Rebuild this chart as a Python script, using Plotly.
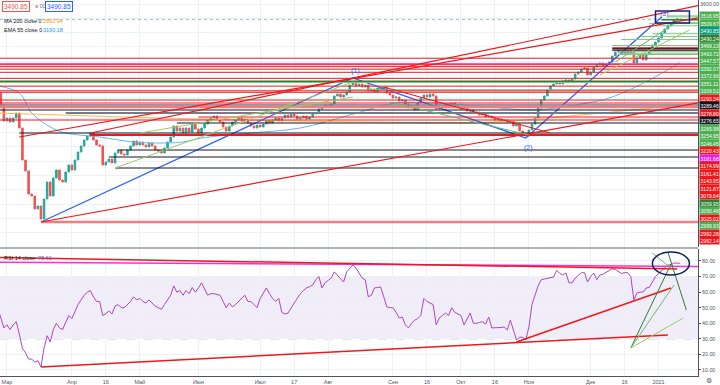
import pandas as pd
import plotly.graph_objects as go

# ---------------- data ----------------
holidays = ['2020-03-09', '2020-05-01', '2020-05-11', '2020-06-12', '2020-06-24',
            '2020-07-01', '2020-11-04', '2020-12-31', '2021-01-01', '2021-01-07']
all_days = [d.strftime('%Y-%m-%d') for d in pd.bdate_range('2020-02-26', '2021-02-05')
            if d.strftime('%Y-%m-%d') not in holidays]

close = [
    2977, 2893, 2781, 2802, 2774, 2802, 2837, 2732, 2508, 2431,
    2270, 2256, 2165, 2186, 2095, 2235, 2354, 2256, 2382, 2438,
    2368, 2354, 2424, 2473, 2438, 2508, 2564, 2606, 2648, 2676,
    2697, 2648, 2613, 2606, 2473, 2494, 2515, 2487, 2557, 2578,
    2550, 2543, 2578, 2606, 2641, 2613, 2634, 2613, 2599, 2627,
    2606, 2578, 2571, 2557, 2592, 2634, 2669, 2746, 2711, 2732,
    2697, 2732, 2704, 2760, 2725, 2697, 2732, 2760, 2788, 2802,
    2816, 2795, 2774, 2739, 2711, 2746, 2774, 2788, 2802, 2781,
    2795, 2767, 2746, 2732, 2753, 2739, 2760, 2781, 2767, 2788,
    2802, 2781, 2802, 2823, 2809, 2830, 2816, 2795, 2802, 2816,
    2795, 2809, 2830, 2837, 2865, 2879, 2893, 2879, 2900, 2956,
    2970, 2949, 2963, 2984, 3033, 3054, 3026, 3040, 3019, 3033,
    2991, 3005, 2984, 3012, 2998, 3019, 2977, 2963, 2942, 2949,
    2921, 2928, 2900, 2872, 2886, 2858, 2907, 2942, 2963, 2949,
    2970, 2956, 2865, 2886, 2872, 2900, 2886, 2907, 2893, 2879,
    2865, 2872, 2851, 2858, 2837, 2844, 2823, 2830, 2809, 2816,
    2802, 2788, 2795, 2781, 2788, 2774, 2781, 2746, 2760, 2711,
    2690, 2676, 2718, 2760, 2802, 2872, 2928, 2956, 2998, 3026,
    3040, 3054, 3040, 3061, 3068, 3054, 3075, 3110, 3124, 3145,
    3152, 3103, 3124, 3159, 3173, 3187, 3166, 3180, 3194, 3236,
    3264, 3271, 3250, 3271, 3257, 3264, 3187, 3222, 3243, 3208,
    3250, 3292, 3313, 3334, 3362, 3397, 3425, 3453, 3467, 3488,
    3495, 3490.85]

rsi = [
    50, 44, 37, 39, 36, 39, 41, 33, 24, 21,
    17, 17, 15, 16, 12, 24, 32, 28, 36, 40,
    37, 36, 41, 45, 43, 48, 52, 55, 58, 60,
    61, 57, 54, 54, 45, 46, 48, 46, 51, 52,
    50, 50, 52, 54, 57, 55, 56, 54, 53, 55,
    53, 51, 50, 49, 52, 55, 58, 64, 60, 61,
    58, 61, 59, 63, 60, 62.7, 66, 62, 58, 59,
    59, 58.5, 58, 54, 50, 53, 50.5, 52, 54, 56,
    58, 54, 54, 52, 50, 56, 59, 62.7, 59, 56,
    54, 56, 47, 46, 46.5, 50, 53, 56, 59, 61,
    62.7, 63.5, 64.6, 68, 70, 62.7, 66, 67.5, 69, 73,
    71, 69, 66.5, 73, 75, 77.4, 75.5, 72, 69, 68,
    57, 58, 62.7, 63, 63.3, 57, 50.5, 50, 50, 47,
    43.4, 44, 39, 37, 40, 42, 43, 45, 56, 54,
    53, 52, 39, 43.4, 45, 46.6, 45, 50, 47, 46,
    45, 39, 43, 46.6, 40, 40, 40.5, 41, 39.5, 44,
    37, 37, 37, 37.3, 37.6, 35.7, 42, 35.7, 29.3, 31,
    31, 29.3, 37.6, 52, 58, 64, 68, 68.5, 69, 69.3,
    69.7, 74, 72, 71, 72.3, 66, 66, 69, 71, 72.5,
    72.5, 66.5, 70, 72.3, 68, 71, 71.5, 72.5, 73.5, 75,
    74.5, 73, 72, 72.5, 72.5, 70, 55, 59.5, 60, 60,
    62.7, 63, 66.5, 70, 72, 74, 75.5, 77.4, 77.5, 78.7,
    78.6, 78.61]

ema55_dates = ['2020-02-26', '2020-03-06', '2020-03-13', '2020-03-23', '2020-03-30', '2020-04-14',
               '2020-04-29', '2020-05-18', '2020-05-25', '2020-06-02', '2020-06-26', '2020-07-21',
               '2020-08-12', '2020-09-02', '2020-09-18', '2020-10-09', '2020-11-03', '2020-11-26',
               '2020-12-10', '2020-12-28', '2021-01-14']
ema55_vals = [3026, 2977, 2837, 2739, 2697, 2669, 2634, 2627, 2634, 2662, 2697, 2732,
              2823, 2907, 2907, 2886, 2858, 2900, 2949, 3068, 3190.18]
ma200_dates = ['2020-02-26', '2020-06-01', '2020-08-20', '2020-10-15', '2020-12-01', '2021-01-14']
ma200_vals = [2837, 2795, 2774, 2774, 2830, 2892.94]

tick_dates = ['2020-03-02', '2020-04-01', '2020-04-16', '2020-05-04', '2020-06-01', '2020-07-02',
              '2020-07-17', '2020-08-03', '2020-09-01', '2020-09-16', '2020-10-01', '2020-10-16',
              '2020-11-02', '2020-12-01', '2020-12-16', '2021-01-04']
tick_labels = ['Мар', 'Апр', '16', 'Май', 'Июн', 'Июл', '17', 'Авг', 'Сен', '16', 'Окт', '16',
               'Ноя', 'Дек', '16', '2021']

# labelled horizontal levels: value, colour, start date (None = whole chart)
level_vals = [3516.95, 3509.67, 3490.85, 3490.24, 3469.13, 3463.72, 3447.57, 3392.07, 3372.66,
              3351.11, 3309.51, 3293.34, 3289.46, 3278.80, 3276.65, 3265.98, 3254.95, 3246.45,
              3220.43, 3181.68, 3174.99, 3161.41, 3143.95, 3121.87, 3079.64, 3059.95, 3050.48,
              3025.02, 2999.93, 2992.28, 2982.14]
level_cols = ['g', 'g', 't', 'dg', 'g', 'g', 'g', 'g', 'g', 'g', 'g', 'r', 'k', 'r', 'k', 'g', 'g',
              'g', 'r', 'm', 'r', 'r', 'r', 'r', 'r', 'dg', 'g', 'r', 'g', 'r', 'r']
level_start = ['2021-01-08', '2021-01-08', None, '2021-01-05', '2020-12-30', '2020-12-28',
               '2020-12-28', '2020-12-29', '2020-12-23', '2020-12-15', '2020-12-10', '2020-12-10',
               '2020-12-10', '2020-12-10', '2020-12-10', '2020-12-14', '2020-12-14', '2020-12-14',
               None, None, None, None, None, None, None, None, None,
               None, '2020-08-05', None, None]

# other horizontal rays: (start date, price, colour key, width)
hlines = [
    ('2020-02-26', 2928, 'r', 1), ('2020-02-26', 2907, 'r', 1),
    ('2020-02-26', 2893, 'gr', 1.5), ('2020-02-26', 2879, 'pk', 2.5), ('2020-02-26', 2858, 'k', 1),
    ('2020-03-30', 2837, 'gr', 2), ('2020-06-01', 2809, 'r', 1), ('2020-02-26', 2788, 'r', 1),
    ('2020-05-21', 2767, 'k', 1), ('2020-03-06', 2697, 'k', 1), ('2020-04-09', 2683, 'r', 2),
    ('2020-04-22', 2578, 'k', 1), ('2020-04-17', 2529, 'k', 1), ('2020-04-21', 2452, 'k', 1),
    ('2020-03-18', 2074, 'pk', 2.5)]

# trend rays extended to the right edge: (date a, price a, date b, price b, colour, width)
trend_rays = [
    ('2020-03-06', 2669, '2020-06-02', 2893, 'r', 1.2),
    ('2020-04-09', 2697, '2020-08-13', 3082, 'r', 1.2),
    ('2020-03-18', 2074, '2020-07-21', 2403, 'r', 1.2)]
# trend segments
segments = [
    ('2020-04-21', 2452, '2020-08-13', 3054, 'lg', 1),
    ('2020-05-04', 2697, '2020-08-13', 2949, 'lg', 1),
    ('2020-08-27', 3019, '2020-11-12', 2697, 'r', 1),
    ('2020-08-31', 2914, '2020-11-02', 2683, 'g2', 1),
    ('2020-12-11', 3194, '2021-01-14', 3488, 'g2', 1),
    ('2020-12-04', 3103, '2021-01-19', 3418, 'lg', 1)]
wave_dates = ['2020-03-18', '2020-08-13', '2020-10-30', '2021-01-05']
wave_prices = [2074, 3082, 2662, 3509]
wave_labels = [('2020-08-14', 3131, '(1)'), ('2020-11-02', 2592, '(2)'), ('2021-01-06', 3530, '(3)')]
box3 = ('2020-12-30', 3551, '2021-01-19', 3467)

# RSI drawings: (date a, rsi a, date b, rsi b, colour, width)
rsi_lines = [
    ('2020-02-26', 79.2, '2021-02-05', 76.4, 'mg', 1.5),
    ('2020-02-26', 82.2, '2021-01-13', 74.9, 'r', 1.5),
    ('2020-03-18', 12.0, '2021-01-08', 32.5, 'r', 1.5),
    ('2020-10-27', 28.0, '2021-01-11', 62.7, 'r', 1.5),
    ('2020-12-18', 24.1, '2021-01-11', 78.0, 'dg', 1),
    ('2020-12-18', 24.1, '2021-01-12', 64.6, 'g2', 1),
    ('2020-12-18', 24.1, '2021-01-15', 43.4, 'lg', 1),
    ('2021-01-08', 85.8, '2021-01-18', 48.5, 'dg', 1),
    ('2020-12-29', 85.1, '2021-01-11', 75.5, 'g2', 1)]
rsi_ellipse = ('2020-12-29', 85.8, '2021-01-19', 71.0)

# ---------------- styling ----------------
COL = {'r': '#f0171b', 'g': '#4caf50', 'dg': '#2e7d32', 't': '#089981', 'k': '#131722',
       'm': '#e91ee9', 'gr': '#787b86', 'pk': '#f77c80', 'lg': '#9ccc65', 'g2': '#66bb6a',
       'mg': '#ff2bd6'}
LINE_COL = dict(COL, g='#81c784', t='rgba(38,166,154,0.55)')
UP, DN = '#26a69a', '#ef5350'
W, H = 720, 385
MR, MB = 22, 9
PW, PH = W - MR, H - MB
XMIN, XMAX = 0.737, 226.77
PMIN, PMAX = 1899, 3628
RMIN, RMAX = 6.14, 87.7
MAIN_DOM = [1 - 247 / PH, 1]
RSI_DOM = [0, (PH - 249) / PH]
FONT = 'Liberation Sans'

bar_of = {d: k for k, d in enumerate(all_days)}
n = len(close)
assert len(rsi) == n
xs = list(range(n))
opens = [close[0]] + close[:-1]
highs = [max(o, c) for o, c in zip(opens, close)]
lows = [min(o, c) for o, c in zip(opens, close)]

fig = go.Figure()
fig.add_trace(go.Candlestick(
    x=xs, open=opens, high=highs, low=lows, close=close,
    increasing=dict(line=dict(color=UP, width=1), fillcolor=UP),
    decreasing=dict(line=dict(color=DN, width=1), fillcolor=DN),
    whiskerwidth=0, showlegend=False, hoverinfo='skip'))
fig.add_trace(go.Scatter(x=[bar_of[d] for d in ema55_dates], y=ema55_vals, mode='lines',
                         line=dict(color='#64b5f6', width=1, shape='spline'), showlegend=False))
fig.add_trace(go.Scatter(x=[bar_of[d] for d in ma200_dates], y=ma200_vals, mode='lines',
                         line=dict(color='#ffb74d', width=1, shape='spline'), showlegend=False))
fig.add_trace(go.Scatter(x=[bar_of[d] for d in wave_dates], y=wave_prices, mode='lines',
                         line=dict(color='#2962ff', width=1.3), showlegend=False))
fig.add_trace(go.Scatter(x=xs, y=rsi, yaxis='y2', mode='lines',
                         line=dict(color='#ab47bc', width=1), showlegend=False))

shapes = []
shapes.append(dict(type='rect', xref='paper', yref='y2', x0=0, x1=1, y0=30, y1=70,
                   fillcolor='rgba(149,117,205,0.14)', line=dict(width=0), layer='below'))
for lv in (70, 30):
    shapes.append(dict(type='line', xref='paper', yref='y2', x0=0, x1=1, y0=lv, y1=lv,
                       line=dict(color='#b2b5be', width=1, dash='dash'), layer='below'))
for v, c, s in zip(level_vals, level_cols, level_start):
    x0 = XMIN if s is None else bar_of[s]
    dash = 'dot' if c == 't' else 'solid'
    wdt = 1.5 if c == 'dg' else 1
    shapes.append(dict(type='line', xref='x', yref='y', x0=x0, x1=XMAX, y0=v, y1=v,
                       line=dict(color=LINE_COL[c], width=wdt, dash=dash)))
for d, p, c, w in hlines:
    shapes.append(dict(type='line', xref='x', yref='y', x0=bar_of[d], x1=XMAX, y0=p, y1=p,
                       line=dict(color=COL[c], width=w)))
for da, pa, db, pb, c, w in trend_rays:
    xa, xb = bar_of[da], bar_of[db]
    slope = (pb - pa) / (xb - xa)
    shapes.append(dict(type='line', xref='x', yref='y', x0=xa, y0=pa, x1=XMAX,
                       y1=pa + slope * (XMAX - xa), line=dict(color=COL[c], width=w)))
for da, pa, db, pb, c, w in segments:
    shapes.append(dict(type='line', xref='x', yref='y', x0=bar_of[da], y0=pa, x1=bar_of[db],
                       y1=pb, line=dict(color=COL[c], width=w)))
shapes.append(dict(type='rect', xref='x', yref='y', x0=bar_of[box3[0]], y0=box3[1],
                   x1=bar_of[box3[2]], y1=box3[3], line=dict(color='#1a237e', width=1.5)))
for da, va, db, vb, c, w in rsi_lines:
    shapes.append(dict(type='line', xref='x', yref='y2', x0=bar_of[da], y0=va, x1=bar_of[db],
                       y1=vb, line=dict(color=COL[c], width=w)))
shapes.append(dict(type='circle', xref='x', yref='y2', x0=bar_of[rsi_ellipse[0]], y0=rsi_ellipse[1],
                   x1=bar_of[rsi_ellipse[2]], y1=rsi_ellipse[3], line=dict(color='#0d1b5e', width=1.5)))
sep = (PH - 248) / PH
shapes.append(dict(type='line', xref='paper', yref='paper', x0=0, x1=1, y0=sep, y1=sep,
                   line=dict(color='#9598a1', width=1.5)))

ann = []
# price labels on the axis, stacked downwards when they overlap
spacing = 7.5 * (PMAX - PMIN) / 247.0
prev = None
for v, c in zip(level_vals, level_cols):
    pos = v if prev is None else min(v, prev - spacing)
    prev = pos
    ann.append(dict(x=1, xref='paper', xanchor='left', xshift=0.5, y=pos, yref='y',
                    yanchor='middle', text='%.2f' % v, showarrow=False, bgcolor=COL[c],
                    borderpad=0.6, font=dict(color='white', size=5, family=FONT)))
for d, p, t in wave_labels:
    ann.append(dict(x=bar_of[d], y=p, xref='x', yref='y', text=t, showarrow=False,
                    font=dict(color='#2962ff', size=7, family=FONT)))


def px(xp, yp):
    return xp / PW, 1 - yp / PH


def text(xp, yp, s, color, size=6, **kw):
    x, y = px(xp, yp)
    d = dict(x=x, y=y, xref='paper', yref='paper', xanchor='left', yanchor='middle', text=s,
             showarrow=False, font=dict(color=color, size=size, family=FONT))
    d.update(kw)
    ann.append(d)


last = '%.2f' % close[-1]
text(2, 6.5, last, '#ef5350', 6.5, bordercolor='#ef5350', borderwidth=1, borderpad=1, bgcolor='white')
text(33, 6.5, '≡ 00', '#787b86', 5.5)
text(45, 6.5, last, '#2962ff', 6.5, bordercolor='#2962ff', borderwidth=1, borderpad=1, bgcolor='white')
text(2, 20.5, 'MA 200 close 0', '#131722', 5.5)
text(41, 20.5, '%.2f' % ma200_vals[-1], '#ff9800', 5.5)
text(2, 30, 'EMA 55 close 0', '#131722', 5.5)
text(41, 30, '%.2f' % ema55_vals[-1], '#2196f3', 5.5)
text(2, 257.5, 'RSI 14 close', '#131722', 5.5)
text(36, 257.5, '%.2f' % rsi[-1], '#7e57c2', 5.5)
text(704, 380, '⚙', '#50535e', 7)

fig.update_layout(
    width=W, height=H, margin=dict(l=0, r=MR, t=0, b=MB),
    paper_bgcolor='white', plot_bgcolor='white',
    font=dict(family=FONT, size=6, color='#50535e'),
    shapes=shapes, annotations=ann, showlegend=False, hovermode=False,
    xaxis=dict(range=[XMIN, XMAX], anchor='y2', rangeslider=dict(visible=False),
               tickvals=[bar_of[d] for d in tick_dates], ticktext=tick_labels,
               showgrid=True, gridcolor='#eef1f8', gridwidth=1, ticks='', tickfont=dict(size=5.5),
               showline=True, linecolor='#50535e', linewidth=1, zeroline=False),
    yaxis=dict(domain=MAIN_DOM, range=[PMIN, PMAX], side='right', anchor='x',
               tickvals=list(range(2000, 3700, 100)),
               ticktext=['3600.00' if v == 3600 else '' for v in range(2000, 3700, 100)],
               showgrid=True, gridcolor='#eef1f8', ticks='', tickfont=dict(size=5.3),
               showline=True, linecolor='#50535e', zeroline=False),
    yaxis2=dict(domain=RSI_DOM, range=[RMIN, RMAX], side='right', anchor='x',
                tickvals=list(range(10, 90, 10)), ticktext=['%.2f' % v for v in range(10, 90, 10)],
                showgrid=True, gridcolor='#eef1f8', ticks='outside', ticklen=2, tickcolor='#50535e',
                tickfont=dict(size=5.3), showline=True, linecolor='#50535e', zeroline=False),
)
fig.write_html('out.html', config={'displayModeBar': False},
               post_script="document.body.style.margin='0px';"
                           "document.body.style.overflow='hidden';")
